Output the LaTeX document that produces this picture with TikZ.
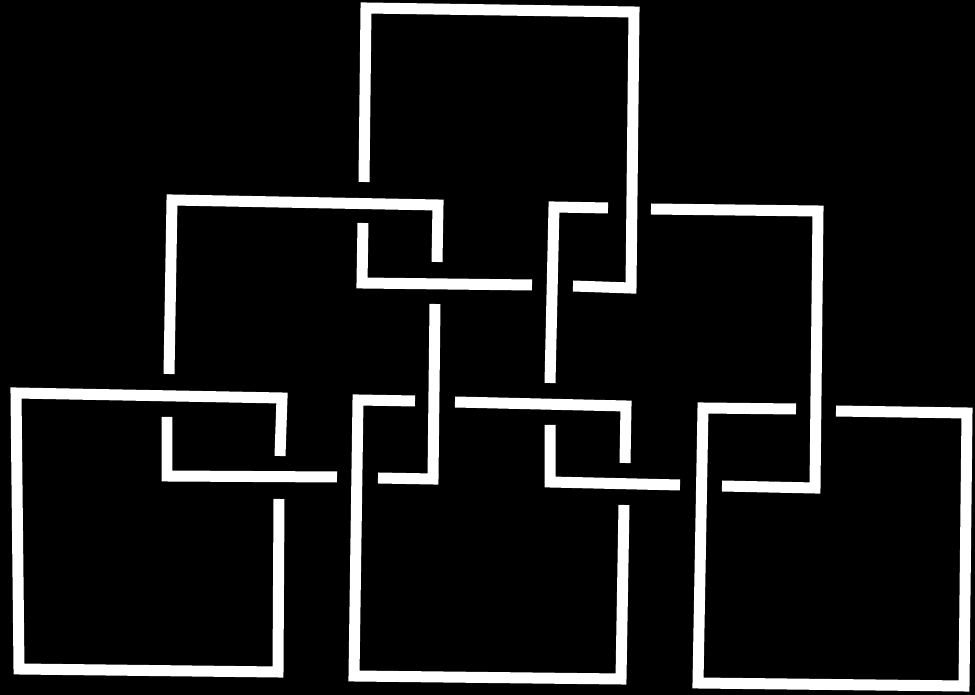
\documentclass[tikz,border=0pt]{standalone}
\usepackage{tikz}

\begin{document}
\begin{tikzpicture}[
  x=0.02cm,
  y=-0.02cm,
  band/.style={
      draw=white,
      line width=0.22cm,
      line join=miter,
      line cap=butt
  }
]

% ==================================================
% Background
% ==================================================

\fill[black] (0,0) rectangle (975,695);
\useasboundingbox (0,0) rectangle (975,695);

% ==================================================
% Top Frame
% ==================================================

\draw[band]
      (363,223)
      -- (362,283)
      -- (532,285);

\draw[band]
      (573,286)
      -- (631,288)
      -- (634,12)
      -- (366,8)
      -- (364,182);

% ==================================================
% Middle Left Frame
% ==================================================

\draw[band]
      (437,262)
      -- (438,205)
      -- (172,200)
      -- (169,374);

\draw[band]
      (167,417)
      -- (167,476)
      -- (337,477);

\draw[band]
      (378,478)
      -- (433,479)
      -- (435,304);

% ==================================================
% Middle Right Frame
% ==================================================

\draw[band]
      (608,208)
      -- (554,207)
      -- (550,383);

\draw[band]
      (550,425)
      -- (550,482)
      -- (680,485);

\draw[band]
      (722,486)
      -- (815,488)
      -- (818,211)
      -- (651,209);

% ==================================================
% Bottom Left Frame
% ==================================================

\draw[band]
      (280,456)
      -- (282,398)
      -- (16,393)
      -- (19,669)
      -- (278,672)
      -- (279,499);

% ==================================================
% Bottom Middle Frame
% ==================================================

\draw[band]
      (415,401)
      -- (358,400)
      -- (354,676)
      -- (621,679)
      -- (624,505);

\draw[band]
      (455,402)
      -- (626,406)
      -- (625,463);

% ==================================================
% Bottom Right Frame
% ==================================================

\draw[band]
      (796,409)
      -- (703,408)
      -- (698,683)
      -- (964,686)
      -- (967,413)
      -- (836,411);

\end{tikzpicture}
\end{document}
